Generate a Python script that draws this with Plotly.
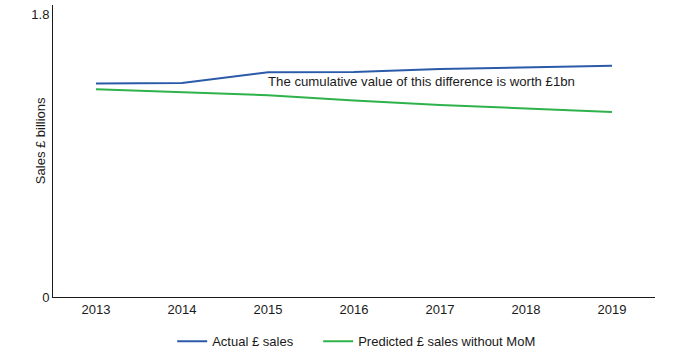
import plotly.graph_objects as go

years = ["2013", "2014", "2015", "2016", "2017", "2018", "2019"]
actual_sales = [1.357, 1.361, 1.429, 1.431, 1.450, 1.460, 1.471]
predicted_sales = [1.321, 1.302, 1.283, 1.250, 1.221, 1.199, 1.177]
y_tick_vals = [0, 1.8]
y_tick_text = ["0", "1.8"]

FONT = "Liberation Sans, Arial, sans-serif"
fig = go.Figure()
fig.add_trace(go.Scatter(x=years, y=actual_sales, mode="lines", name="Actual £ sales",
                         line=dict(color="#2b5ba8", width=2), legend="legend"))
fig.add_trace(go.Scatter(x=years, y=predicted_sales, mode="lines", name="Predicted £ sales without MoM",
                         line=dict(color="#2eb24b", width=2), legend="legend2"))

fig.add_annotation(x=2, y=1.368, xref="x", yref="y", xanchor="left", yanchor="middle",
                   text="The cumulative value of this difference is worth £1bn",
                   showarrow=False, xshift=-2, font=dict(size=13.2, color="#1a1a1a", family=FONT))
fig.add_annotation(x=-0.021, y=0.535, xref="paper", yref="paper", xanchor="center", yanchor="middle",
                   text="Sales £ billions", textangle=-90, showarrow=False,
                   font=dict(size=13, color="#1a1a1a", family=FONT))

legend_common = dict(orientation="h", xanchor="left", y=-0.10, yanchor="top",
                     font=dict(size=13), itemwidth=30, tracegroupgap=0,
                     bgcolor="rgba(0,0,0,0)")

fig.update_layout(
    width=688, height=357,
    margin=dict(l=53, r=33, t=5, b=60, autoexpand=False),
    paper_bgcolor="white", plot_bgcolor="white",
    font=dict(family=FONT, size=13, color="#1a1a1a"),
    showlegend=True,
    legend=dict(x=0.198, **legend_common),
    legend2=dict(x=0.4405, **legend_common),
    xaxis=dict(type="category", range=[-0.5, 6.5], showgrid=False, showline=True,
               linecolor="#1a1a1a", linewidth=1, ticks="", zeroline=False, automargin=False),
    yaxis=dict(range=[0, 1.857], tickvals=y_tick_vals, ticktext=y_tick_text, showgrid=False,
               showline=True, linecolor="#1a1a1a", linewidth=1, ticks="", zeroline=False,
               automargin=False),
)

fig.write_html("out.html", config={"displayModeBar": False},
               post_script="document.body.style.margin='0';")
